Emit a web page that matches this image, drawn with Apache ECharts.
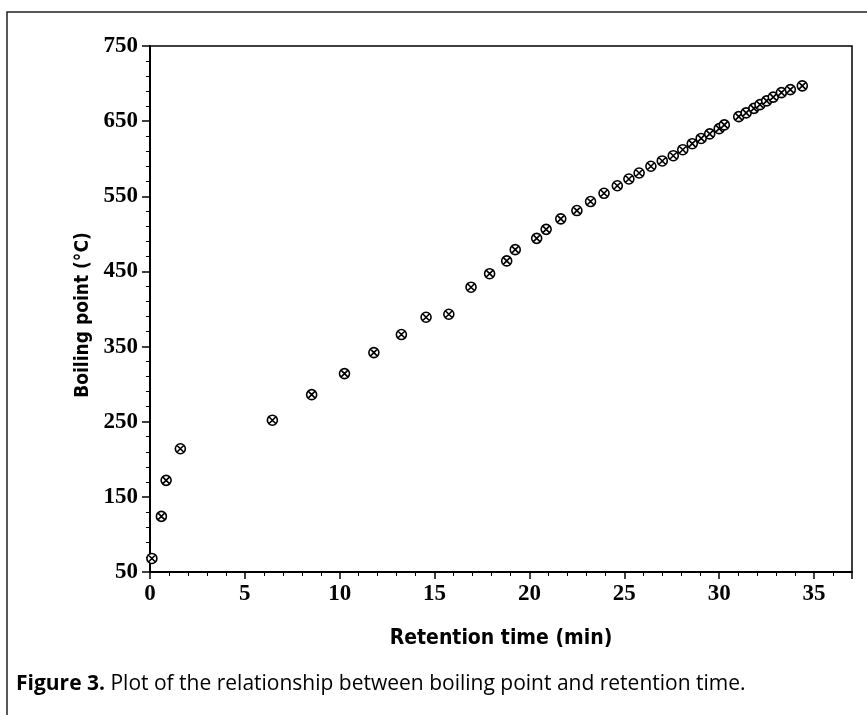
<!DOCTYPE html>
<html>
<head>
<meta charset="utf-8">
<script src="https://cdn.jsdelivr.net/npm/echarts@6/dist/echarts.min.js"></script>
<style>
  html, body { margin: 0; padding: 0; background: #fff; }
  #chart { width: 867px; height: 715px; }
</style>
</head>
<body>
<div id="chart"></div>
<script>
// Retention time (min)
const retentionTime = [0.1, 0.6, 0.85, 1.6, 6.45, 8.52, 10.25, 11.8, 13.25, 14.55, 15.75, 16.92, 17.9, 18.8, 19.25,
  20.38, 20.88, 21.65, 22.5, 23.22, 23.93, 24.63, 25.24, 25.78, 26.4, 27.0, 27.58, 28.08, 28.58, 29.05, 29.5,
  30.0, 30.27, 31.03, 31.42, 31.83, 32.15, 32.5, 32.85, 33.28, 33.75, 34.38];
// Boiling point (°C)
const boilingPoint = [68, 124, 172, 214, 252, 286, 314, 342, 366, 389, 393, 429, 447, 464, 479,
  494, 506, 520, 531, 543, 554, 564, 573, 581, 590, 597, 604, 612, 620, 627, 633,
  640, 645, 656, 661, 667, 672, 677, 682, 688, 692, 697];

const xTicks = [0, 5, 10, 15, 20, 25, 30, 35];
const yTicks = [50, 150, 250, 350, 450, 550, 650, 750];

const xTitle = 'Retention time (min)';
const yTitle = 'Boiling point (°C)';
const captionBold = 'Figure 3.';
const captionText = ' Plot of the relationship between boiling point and retention time.';

const points = retentionTime.map((t, i) => [t, boilingPoint[i]]);

const chart = echarts.init(document.getElementById('chart'), null, { renderer: 'canvas' });

const tickFont = { fontFamily: '"Liberation Serif", "Times New Roman", serif', fontWeight: 'bold', fontSize: 23, color: '#000' };
const titleFamily = '"Liberation Sans Narrow", "DejaVu Sans Condensed", "Liberation Sans", sans-serif';

chart.setOption({
  animation: false,
  backgroundColor: '#fff',
  title: {
    text: '{b|' + captionBold + '}{r|' + captionText + '}',
    left: 16,
    top: 674,
    padding: 0,
    textStyle: {
      rich: {
        b: { fontFamily: '"Open Sans", "Liberation Sans", sans-serif', fontWeight: 'bold', fontSize: 21, color: '#000' },
        r: { fontFamily: '"Open Sans", "Liberation Sans", sans-serif', fontWeight: 'normal', fontSize: 21, color: '#000' }
      }
    }
  },
  graphic: [{
    type: 'rect',
    shape: { x: 7, y: 12, width: 880, height: 730 },
    style: { fill: 'none', stroke: '#222', lineWidth: 1.5 },
    silent: true
  }],
  grid: {
    left: 150, right: 15, top: 46, bottom: 143,
    show: true, borderColor: '#000', borderWidth: 1.5, backgroundColor: 'transparent'
  },
  xAxis: {
    type: 'value',
    min: 0, max: 37, interval: 5,
    name: xTitle,
    nameLocation: 'middle',
    nameGap: 56,
    nameTextStyle: { fontFamily: titleFamily, fontWeight: 'bold', fontSize: 21, color: '#000' },
    axisLine: { show: true, onZero: false, lineStyle: { color: '#000', width: 2 } },
    axisTick: { show: true, inside: false, length: 7, lineStyle: { color: '#000', width: 1.5 } },
    minorTick: { show: true, splitNumber: 5, length: 4, lineStyle: { color: '#000', width: 1 } },
    splitLine: { show: false },
    axisLabel: {
      ...tickFont,
      margin: 11,
      showMaxLabel: false,
      formatter: v => (xTicks.indexOf(v) >= 0 ? String(v) : '')
    }
  },
  yAxis: {
    type: 'value',
    min: 50, max: 750, interval: 100,
    name: yTitle,
    nameLocation: 'middle',
    nameGap: 57,
    nameRotate: 90,
    nameTextStyle: { fontFamily: titleFamily, fontWeight: 'bold', fontSize: 19, color: '#000', padding: [0, 12, 0, 0] },
    axisLine: { show: true, onZero: false, lineStyle: { color: '#000', width: 2 } },
    axisTick: { show: true, inside: false, length: 8, lineStyle: { color: '#000', width: 1.5 } },
    minorTick: { show: true, splitNumber: 5, length: 4, lineStyle: { color: '#000', width: 1 } },
    splitLine: { show: false },
    axisLabel: {
      ...tickFont,
      margin: 12,
      formatter: v => (yTicks.indexOf(v) >= 0 ? String(v) : '')
    }
  },
  series: [{
    type: 'scatter',
    data: points,
    symbol: 'path://M0,10 A10,10 0 1,1 20,10 A10,10 0 1,1 0,10 Z M3.5,3.5 L16.5,16.5 M16.5,3.5 L3.5,16.5',
    symbolSize: 10,
    itemStyle: { color: '#fff', borderColor: '#000', borderWidth: 1.6, opacity: 1 },
    emphasis: { disabled: true }
  }]
});
</script>
</body>
</html>
